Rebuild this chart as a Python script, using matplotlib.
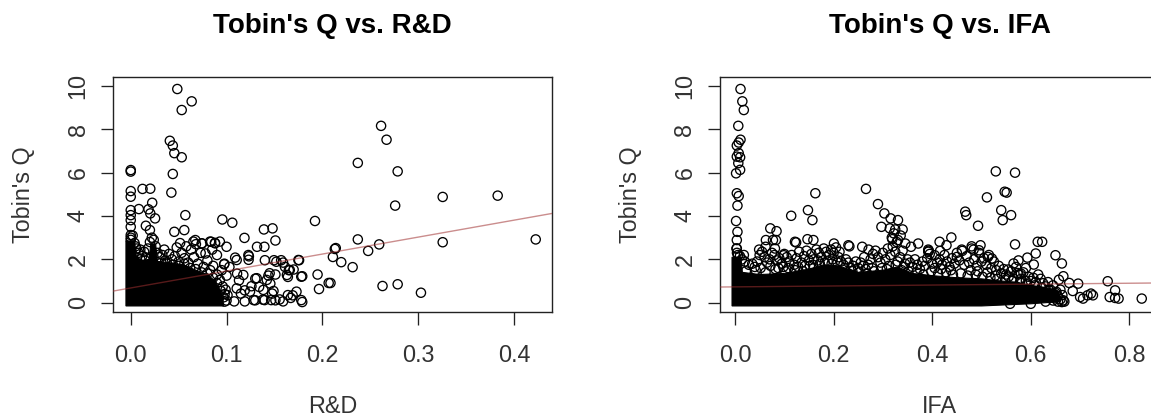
import matplotlib
matplotlib.use("Agg")
import matplotlib.pyplot as plt
import numpy as np

plt.rcParams['font.family'] = ['Liberation Sans', 'DejaVu Sans']

# ---- data ----
# Tobin's Q vs. R&D: single points (outliers and the ragged edge of the cloud)
rd_x = [0.0486, 0.0636, 0.0532, 0.0408, 0.0439, 0.0455, 0.0532, 0.0439, 0.0424,
        0.2613, 0.267, 0.237, 0.2786, 0.276, 0.3256, 0.383, 0.1923, 0.237, 0.3256,
        0.4227, 0.2593, 0.2478, 0.213, 0.214, 0.211, 0.2197, 0.2316, 0.195, 0.1965,
        0.2066, 0.2085, 0.2628, 0.2786, 0.3029, 0.179, 0.1757, 0.179, 0.170,
        0.0956, 0.106, 0.139, 0.148, 0.1187, 0.151, 0.1318, 0.1395, 0.100,
        0.057, 0.0559, 0.0455, 0.0123, 0.0204, 0.0085, 0.0224, 0.0185, 0.0204,
        0.0254, 0.0158, 0.020, 0.0, 0.0, 0.0, 0.0, 0.0, 0.0, 0.0, 0.0, 0.0,
        0.109, 0.1233, 0.123, 0.14, 0.1495, 0.157, 0.161, 0.165, 0.151, 0.164,
        0.1437, 0.1457, 0.149, 0.134, 0.130, 0.126, 0.119, 0.115, 0.108, 0.119,
        0.130, 0.138, 0.151, 0.159, 0.167, 0.169, 0.1476, 0.111, 0.113, 0.103,
        0.0975, 0.0977, 0.0879, 0.084, 0.0744, 0.0674, 0.078, 0.0654, 0.0741,
        0.0828, 0.088, 0.093, 0.0515, 0.1228, 0.1106, 0.152, 0.159, 0.166, 0.175,
        0.178, 0.163, 0.145, 0.142, 0.1315, 0.1175, 0.1106, 0.1283, 0.1397,
        0.1466, 0.1554, 0.164, 0.173, 0.178, 0.1245, 0.1384,
        0.0, 0.0, 0.002, 0.004, 0.006, 0.008, 0.010, 0.012, 0.014, 0.016, 0.018,
        0.020, 0.022, 0.024, 0.026, 0.028, 0.030, 0.033, 0.036, 0.040, 0.043,
        0.046, 0.050, 0.053, 0.056, 0.060, 0.063, 0.066, 0.070, 0.073, 0.076,
        0.080, 0.083, 0.086, 0.090, 0.093, 0.096, 0.098, 0.100, 0.092, 0.100,
        0.095, 0.085, 0.090, 0.058, 0.048, 0.035, 0.068,
        0.032, 0.038, 0.044, 0.050, 0.056, 0.062, 0.068, 0.074, 0.080, 0.086,
        0.090, 0.094, 0.097, 0.010, 0.015, 0.005, 0.099, 0.101, 0.098]
rd_q = [9.86, 9.29, 8.89, 7.47, 7.25, 6.90, 6.71, 5.94, 5.08,
        8.16, 7.52, 6.45, 6.06, 4.48, 4.88, 4.94, 3.77, 2.92, 2.79,
        2.92, 2.69, 2.39, 2.48, 2.52, 2.11, 1.87, 1.64, 1.30, 0.63,
        0.91, 0.91, 0.77, 0.85, 0.46, 0.03, 1.96, 1.22, 1.53,
        3.84, 3.69, 3.38, 3.43, 2.99, 2.87, 2.58, 2.58, 2.58,
        4.04, 3.35, 3.27, 5.25, 5.26, 4.32, 4.61, 4.31, 4.12,
        3.89, 3.55, 3.35, 6.05, 6.12, 5.15, 4.89, 4.27, 4.04, 3.81, 3.5, 3.12,
        2.08, 2.14, 1.98, 1.96, 1.96, 1.96, 1.65, 1.50, 1.30, 1.19,
        1.25, 0.88, 0.54, 0.73, 1.11, 0.76, 0.57, 0.42, 0.06, 0.06,
        0.11, 0.14, 0.11, 0.06, 0.22, 0.34, 0.42, 1.34, 1.03, 1.65,
        1.77, 1.80, 2.76, 2.81, 2.73, 2.89, 2.27, 2.82, 2.74,
        2.82, 2.74, 2.82, 2.75, 2.20, 1.97, 1.89, 1.85, 1.51, 1.97,
        1.20, 1.28, 1.36, 1.05, 1.13, 1.28, 0.66, 0.12, 0.12,
        0.12, 0.15, 0.35, 0.51, 0.12, 0.51, 0.59,
        2.90, 3.00, 3.10, 2.75, 2.50, 2.30, 2.45, 2.15, 2.35, 2.05, 2.50,
        2.80, 3.00, 2.90, 2.60, 2.30, 2.10, 2.20, 1.95, 2.25, 2.00,
        2.15, 1.90, 2.30, 2.05, 1.85, 2.45, 2.10, 1.80, 2.30, 1.65,
        1.95, 1.50, 1.70, 1.30, 1.05, 0.75, 0.40, 0.10, 0.20, 1.25,
        1.50, 2.45, 2.20, 2.60, 2.55, 2.45, 2.70,
        1.85, 1.80, 1.75, 1.70, 1.80, 1.60, 1.55, 1.40, 1.35, 1.15,
        0.90, 0.55, 0.25, 2.00, 1.95, 2.60, 0.60, 0.35, 0.05]
# outline of the fully overplotted (solid black) part of the cloud
rd_core_x = [-0.005, -0.005, 0.004, 0.006, 0.012, 0.019, 0.021, 0.026, 0.028,
             0.040, 0.055, 0.068, 0.080, 0.088, 0.093, 0.096, 0.097]
rd_core_q = [-0.15, 2.85, 2.85, 2.10, 1.95, 2.00, 2.70, 2.70, 1.90,
             1.85, 1.75, 1.50, 1.30, 1.00, 0.60, 0.20, -0.15]
rd_fit = (0.68, 7.82)   # intercept, slope

# Tobin's Q vs. IFA
ifa_x = [0.0112, 0.0149, 0.0179, 0.0067, 0.0112, 0.0075, 0.0037, 0.0075, 0.0037,
         0.0104, 0.0067, 0.0104, 0.0022, 0.0037, 0.0075, 0.005, 0.0022, 0.005,
         0.0037, 0.0037, 0.114, 0.148, 0.157, 0.163, 0.147, 0.159, 0.1216, 0.124,
         0.0716, 0.0843, 0.0627, 0.077, 0.083, 0.049, 0.062, 0.081, 0.099,
         0.2007, 0.23, 0.232, 0.258, 0.271, 0.2657, 0.290, 0.303, 0.3157, 0.3306,
         0.297, 0.314, 0.325, 0.340, 0.319, 0.3306, 0.3455, 0.3716, 0.357, 0.392,
         0.393, 0.415, 0.4388, 0.429, 0.467, 0.469, 0.493, 0.511, 0.529, 0.568,
         0.547, 0.551, 0.54, 0.543, 0.560, 0.568, 0.614, 0.623, 0.610, 0.593,
         0.606, 0.65, 0.663, 0.666, 0.657, 0.678, 0.696, 0.756, 0.771, 0.760,
         0.771, 0.778, 0.825, 0.700, 0.715, 0.722, 0.726, 0.706, 0.685, 0.666,
         0.663, 0.644, 0.637, 0.633, 0.558, 0.573, 0.554, 0.565, 0.580, 0.513,
         0.521, 0.495, 0.498, 0.480, 0.484, 0.461, 0.45, 0.416, 0.405,
         0.003, 0.004, 0.006, 0.010, 0.014, 0.020, 0.018,
         0.028, 0.035, 0.040, 0.045, 0.050, 0.055, 0.060, 0.052, 0.065,
         0.070, 0.075, 0.080, 0.085, 0.090, 0.095, 0.100, 0.072, 0.088, 0.098,
         0.105, 0.110, 0.115, 0.120, 0.125, 0.130, 0.135, 0.140, 0.145, 0.150,
         0.108, 0.128, 0.142,
         0.155, 0.160, 0.165, 0.170, 0.175, 0.180, 0.185, 0.190, 0.195, 0.200,
         0.158, 0.172, 0.188, 0.198,
         0.205, 0.210, 0.215, 0.220, 0.225, 0.230, 0.240, 0.245, 0.250, 0.212, 0.235,
         0.255, 0.260, 0.265, 0.270, 0.275, 0.280, 0.285, 0.290, 0.295, 0.300,
         0.262, 0.278,
         0.305, 0.310, 0.315, 0.320, 0.325, 0.330, 0.335, 0.340, 0.345, 0.350,
         0.318, 0.322, 0.328, 0.336, 0.312, 0.342,
         0.355, 0.360, 0.365, 0.370, 0.375, 0.380, 0.385, 0.390, 0.395, 0.400, 0.392,
         0.405, 0.410, 0.415, 0.420, 0.425, 0.430, 0.435, 0.440, 0.445, 0.450,
         0.418, 0.438,
         0.455, 0.460, 0.465, 0.470, 0.475, 0.480, 0.485, 0.490, 0.495, 0.500,
         0.478, 0.492,
         0.505, 0.510, 0.515, 0.520, 0.525, 0.530, 0.535, 0.540, 0.545, 0.550,
         0.512, 0.528,
         0.555, 0.560, 0.565, 0.570, 0.575, 0.580, 0.585, 0.590, 0.595, 0.600,
         0.575, 0.590,
         0.605, 0.610, 0.615, 0.620, 0.625, 0.630, 0.635, 0.640, 0.645, 0.650,
         0.655, 0.660, 0.648, 0.660, 0.668,
         0.022, 0.042, 0.062, 0.082, 0.102, 0.122, 0.138, 0.152, 0.168, 0.182,
         0.196, 0.208, 0.222, 0.238, 0.252, 0.268, 0.282, 0.298, 0.308, 0.326,
         0.338, 0.352, 0.368, 0.382, 0.398, 0.412, 0.428, 0.442, 0.458, 0.472,
         0.488, 0.502, 0.518, 0.532, 0.548, 0.562, 0.578, 0.592, 0.608, 0.622,
         0.636, 0.652, 0.664, 0.630, 0.645, 0.655, 0.600]
ifa_q = [9.86, 9.29, 8.89, 8.16, 7.52, 7.39, 7.25, 6.90, 6.74,
         6.71, 6.44, 6.13, 5.97, 5.05, 4.92, 4.48, 3.77, 3.27,
         2.89, 2.50, 4.01, 4.27, 3.81, 5.05, 2.93, 2.89, 2.81, 2.78,
         3.43, 3.30, 2.89, 2.89, 2.89, 2.45, 2.58, 2.50, 2.19,
         2.73, 2.65, 2.60, 2.58, 2.45, 5.25, 4.55, 4.12, 3.89, 3.81,
         3.50, 3.43, 3.38, 3.38, 2.93, 2.89, 2.73, 2.73, 2.58, 2.35,
         2.40, 2.81, 3.01, 2.65, 4.20, 4.04, 3.55, 4.86, 6.06, 6.00,
         5.12, 5.08, 4.27, 3.81, 4.04, 2.69, 2.81, 2.81, 2.27, 2.08,
         1.76, 2.19, 1.81, 1.22, 1.06, 0.91, 0.88, 0.99, 0.57, 0.26,
         0.22, 0.19, 0.19, 0.26, 0.34, 0.42, 0.34, 0.19, 0.54, 0.11,
         0.03, 0.42, 0.57, 0.26, -0.05, 1.37, 1.53, 1.81, 1.34, 2.11,
         2.04, 2.42, 2.65, 2.50, 2.45, 2.39, 2.11, 2.39, 2.19,
         2.50, 2.30, 2.20, 2.15, 2.00, 1.90, 2.20,
         1.75, 1.80, 1.65, 1.90, 2.20, 2.35, 2.10, 1.60, 1.85,
         2.00, 2.30, 2.20, 1.95, 2.05, 1.80, 2.25, 1.70, 1.60, 1.65,
         2.10, 1.90, 2.20, 1.75, 2.05, 2.35, 1.85, 2.15, 2.40, 1.95,
         1.60, 1.65, 1.70,
         2.25, 2.00, 2.45, 2.30, 2.10, 2.50, 2.35, 2.20, 2.45, 2.30,
         1.75, 1.80, 1.90, 2.00,
         2.55, 2.10, 1.90, 1.75, 2.00, 1.85, 1.70, 1.90, 1.60, 2.35, 1.60,
         1.85, 1.70, 1.55, 1.75, 2.00, 2.25, 2.40, 2.10, 1.85, 2.30,
         2.10, 1.60,
         2.00, 2.50, 2.20, 2.60, 2.35, 1.90, 2.10, 2.40, 1.80, 2.00,
         3.00, 3.20, 2.80, 3.10, 1.70, 1.65,
         1.85, 1.65, 2.00, 1.75, 1.55, 1.90, 1.70, 2.05, 2.25, 1.80, 2.45,
         1.60, 1.85, 2.00, 1.75, 2.20, 1.90, 1.65, 2.05, 1.80, 2.30,
         1.55, 1.50,
         1.95, 2.45, 1.75, 2.15, 1.85, 2.60, 2.00, 1.70, 2.30, 1.90,
         1.50, 1.45,
         2.05, 1.75, 2.20, 1.60, 1.90, 1.50, 1.70, 1.35, 1.55, 1.30,
         1.40, 1.25,
         1.20, 1.45, 1.10, 1.65, 1.30, 1.10, 1.40, 1.00, 1.20, 1.00,
         1.95, 1.60,
         1.15, 0.95, 1.30, 1.10, 0.90, 0.75, 0.95, 0.60, 0.80, 0.45,
         0.30, 0.15, 0.20, 0.60, 0.05,
         1.45, 1.50, 1.40, 1.55, 1.45, 1.50, 1.45, 1.70, 1.95, 1.85,
         1.80, 1.85, 1.60, 1.45, 1.40, 1.35, 1.45, 1.60, 1.55, 1.75,
         1.50, 1.45, 1.40, 1.30, 1.45, 1.35, 1.40, 1.30, 1.35, 1.25,
         1.30, 1.20, 1.15, 1.10, 1.05, 1.00, 0.95, 0.85, 0.80, 0.70,
         0.60, 0.50, 0.35, 0.05, 0.10, 0.05, -0.05]
ifa_core_x = [-0.006, -0.006, 0.012, 0.015, 0.05, 0.10, 0.15, 0.18, 0.21, 0.25,
              0.30, 0.33, 0.36, 0.40, 0.45, 0.50, 0.54, 0.57, 0.60, 0.63, 0.655,
              0.66, 0.66, 0.60, 0.55, 0.50, 0.30, 0.10, 0.0]
ifa_core_q = [-0.15, 2.10, 2.10, 1.40, 1.30, 1.35, 1.55, 1.75, 1.70, 1.40,
              1.50, 1.65, 1.35, 1.25, 1.15, 1.10, 1.00, 0.95, 0.80, 0.70, 0.55,
              0.20, 0.05, -0.05, -0.10, -0.15, -0.15, -0.15, -0.15]
ifa_fit = (0.73, 0.21)

panels = [
    dict(title="Tobin's Q vs. R&D", xlabel="R&D", x=rd_x, q=rd_q,
         cx=rd_core_x, cq=rd_core_q, fit=rd_fit,
         xticks=[0, 0.1, 0.2, 0.3, 0.4], xlim=(-0.0182, 0.440),
         pos=[113.3 / 1151, 105.7 / 418, 439 / 1151, 235 / 418]),
    dict(title="Tobin's Q vs. IFA", xlabel="IFA", x=ifa_x, q=ifa_q,
         cx=ifa_core_x, cq=ifa_core_q, fit=ifa_fit,
         xticks=[0, 0.2, 0.4, 0.6, 0.8], xlim=(-0.0304, 0.860),
         pos=[720 / 1151, 105.7 / 418, 439 / 1151, 235 / 418]),
]

fig = plt.figure(figsize=(11.51, 4.18), dpi=100)
fig.patch.set_facecolor('white')

for p in panels:
    ax = fig.add_axes(p['pos'])
    ax.fill(p['cx'], p['cq'], color='black', lw=0.8, zorder=2)
    ax.scatter(p['x'], p['q'], s=44, facecolors='none', edgecolors='black',
               linewidths=0.95, zorder=3)
    ax.axline((0, p['fit'][0]), slope=p['fit'][1], color='#a03030', alpha=0.55,
              lw=1.0, zorder=4)
    ax.set_xlim(p['xlim'])
    ax.set_ylim(-0.443, 10.40)
    ax.set_xticks(p['xticks'])
    ax.set_xticklabels(['%.1f' % t for t in p['xticks']])
    ax.set_yticks([0, 2, 4, 6, 8, 10])
    ax.set_yticklabels(['0', '2', '4', '6', '8', '10'])
    for s in ax.spines.values():
        s.set_linewidth(1.0)
        s.set_color('#222222')
    ax.tick_params(direction='out', length=9, width=0.95, color='#222222',
                   labelsize=16.8, labelcolor='#333333')
    ax.tick_params(axis='x', pad=14)
    ax.tick_params(axis='y', pad=8, labelrotation=90)
    for lab in ax.get_yticklabels():
        lab.set_va('center')
    ax.set_xlabel(p['xlabel'], fontsize=16.8, color='#333333')
    ax.xaxis.set_label_coords(0.5, -0.352)
    ax.set_ylabel("Tobin's Q", fontsize=16.8, color='#333333')
    ax.yaxis.set_label_coords(-0.178, 0.5)
    ax.text(0.5, 1.1885, p['title'], transform=ax.transAxes, ha='center',
            va='baseline', fontsize=20, fontweight='bold', color='black')

fig.savefig('out.png', dpi=100)
